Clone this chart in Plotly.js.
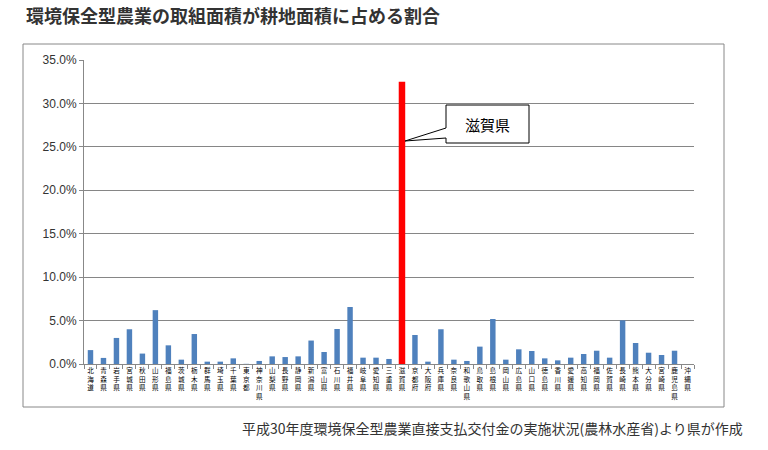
<!DOCTYPE html>
<html>
<head>
<meta charset="utf-8">
<script src="https://cdn.plot.ly/plotly-3.0.1.min.js"></script>
<style>html,body{margin:0;padding:0;background:#fff;}#chart{width:768px;height:450px;}</style>
</head>
<body>
<div id="chart"></div>
<script>
// Data
const prefectures = ["北海道","青森県","岩手県","宮城県","秋田県","山形県","福島県","茨城県","栃木県","群馬県","埼玉県","千葉県","東京都","神奈川県","山梨県","長野県","静岡県","新潟県","富山県","石川県","福井県","岐阜県","愛知県","三重県","滋賀県","京都府","大阪府","兵庫県","奈良県","和歌山県","鳥取県","島根県","岡山県","広島県","山口県","徳島県","香川県","愛媛県","高知県","福岡県","佐賀県","長崎県","熊本県","大分県","宮崎県","鹿児島県","沖縄県"];
const shares = [1.6,0.7,3.0,4.0,1.2,6.2,2.15,0.5,3.45,0.27,0.27,0.65,0.02,0.35,0.88,0.8,0.88,2.7,1.38,4.03,6.56,0.73,0.73,0.58,32.5,3.34,0.27,4.0,0.5,0.35,2.0,5.18,0.5,1.69,1.5,0.65,0.42,0.73,1.15,1.53,0.73,5.03,2.42,1.3,1.04,1.53,0.0];
const highlight = "滋賀県";
const yTickVals = [0,5,10,15,20,25,30,35];
const yTickText = ["0.0%","5.0%","10.0%","15.0%","20.0%","25.0%","30.0%","35.0%"];
const titleText = "環境保全型農業の取組面積が耕地面積に占める割合";
const sourceText = "平成30年度環境保全型農業直接支払交付金の実施状況(農林水産省)より県が作成";

// Plot area in pixels: x 84..694, y 60..364
const L = 84, R = 694, T = 60, B = 364;
const px = v => (v - L) / (R - L);
const py = v => (B - v) / (B - T);

const colors = prefectures.map(p => p === highlight ? "#FF0000" : "#4F81BD");
const widths = prefectures.map(p => p === highlight ? 0.5 : 0.42);
const verticalLabels = prefectures.map(p => p.split("").join("<br>"));

const trace = {
  type: "bar",
  x: prefectures,
  y: shares,
  marker: {color: colors, line: {width: 0}},
  width: widths,
  hoverinfo: "x+y"
};

const callout = "M " + px(446) + "," + py(105) + " L " + px(529) + "," + py(105) +
  " L " + px(529) + "," + py(143) + " L " + px(446) + "," + py(143) +
  " L " + px(446) + "," + py(138) + " L " + px(405) + "," + py(141) +
  " L " + px(446) + "," + py(128) + " Z";

const layout = {
  width: 768, height: 450,
  margin: {l: L, r: 768 - R, t: T, b: 450 - B, pad: 0},
  paper_bgcolor: "#ffffff",
  plot_bgcolor: "#ffffff",
  showlegend: false,
  title: {
    text: titleText,
    font: {family: "Noto Sans CJK JP", size: 18, color: "#333333", weight: "bold"},
    x: 26 / 768, xref: "container", xanchor: "left",
    y: 1 - 17 / 450, yref: "container", yanchor: "middle"
  },
  xaxis: {
    type: "category",
    range: [-0.5, prefectures.length - 0.5],
    tickvals: prefectures,
    ticktext: verticalLabels,
    tickangle: 0,
    tickfont: {family: "Noto Sans CJK JP", size: 6.6, color: "#000000"},
    ticks: "outside", ticklen: 4, tickcolor: "#888888",
    tickson: "boundaries",
    showline: true, linecolor: "#888888", linewidth: 1,
    showgrid: false, zeroline: false,
    fixedrange: true
  },
  yaxis: {
    range: [0, 35],
    tickvals: yTickVals,
    ticktext: yTickText,
    tickfont: {family: "Liberation Sans, Arial, sans-serif", size: 12, color: "#333333"},
    ticks: "outside", ticklen: 4, tickcolor: "#888888",
    showline: true, linecolor: "#888888", linewidth: 1,
    showgrid: true, gridcolor: "#868686", gridwidth: 1,
    zeroline: false,
    fixedrange: true
  },
  shapes: [
    {type: "rect", xref: "paper", yref: "paper", x0: px(23), x1: px(724), y0: py(407), y1: py(44),
     line: {color: "#888888", width: 1}, fillcolor: "rgba(0,0,0,0)", layer: "below"},
    {type: "path", xref: "paper", yref: "paper", path: callout,
     line: {color: "#000000", width: 1}, fillcolor: "#ffffff", layer: "above"}
  ],
  annotations: [
    {text: highlight, xref: "paper", yref: "paper", x: px(487.5), y: py(124),
     xanchor: "center", yanchor: "middle", showarrow: false,
     font: {family: "Noto Sans CJK JP", size: 15, color: "#000000"}},
    {text: sourceText, xref: "paper", yref: "paper", x: px(745), y: py(428),
     xanchor: "right", yanchor: "middle", showarrow: false,
     font: {family: "Noto Sans CJK JP", size: 14, color: "#333333"}}
  ]
};

Plotly.newPlot("chart", [trace], layout, {displayModeBar: false, staticPlot: true});
</script>
</body>
</html>
